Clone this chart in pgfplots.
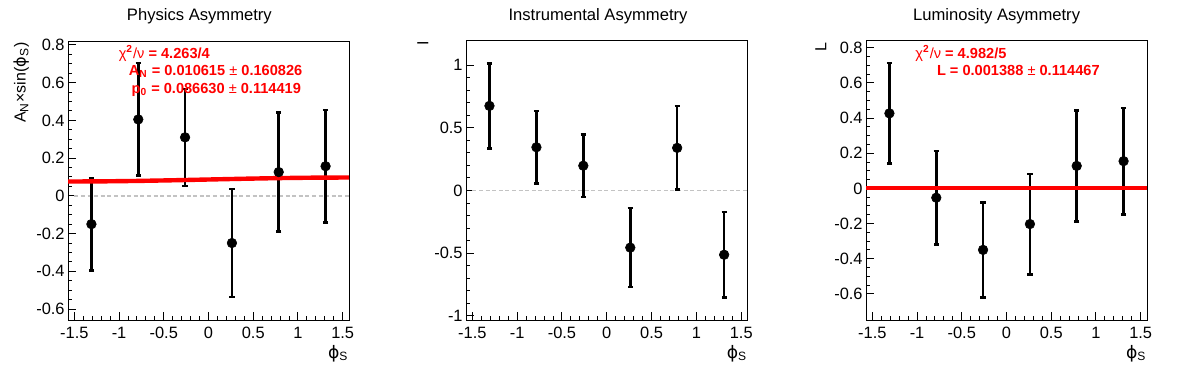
\documentclass[border=0pt]{standalone}
\usepackage{fontspec}
\setmainfont{Liberation Sans}
\newfontfamily\dejavu{DejaVu Sans}
\newcommand{\phis}{{\dejavu ϕ}}
\usepackage{pgfplots}
\pgfplotsset{compat=1.18}
\definecolor{rootred}{RGB}{255,0,0}
\definecolor{dashgray}{RGB}{195,195,195}

\pgfplotstableread{
x y e
-1.309 -0.150 0.245
-0.785 0.405 0.298
-0.262 0.310 0.257
0.262 -0.250 0.286
0.785 0.126 0.315
1.309 0.157 0.299
}\physdata
\pgfplotstableread{
x y e
-1.309 0.675 0.339
-0.785 0.345 0.290
-0.262 0.198 0.249
0.262 -0.455 0.315
0.785 0.340 0.333
1.309 -0.512 0.340
}\instdata
\pgfplotstableread{
x y e
-1.309 0.427 0.287
-0.785 -0.053 0.266
-0.262 -0.350 0.270
0.262 -0.203 0.286
0.785 0.128 0.315
1.309 0.155 0.302
}\lumidata
\pgfplotstableread{
x y
-1.5708 0.0760
-1.2 0.0767
-0.8 0.0790
-0.4 0.0825
0 0.0866
0.4 0.0907
0.8 0.0942
1.2 0.0965
1.5708 0.0972
}\physfit

\pgfplotsset{
  rootaxis/.style={
    scale only axis,
    anchor=south west,
    xmin=-1.5708, xmax=1.5708,
    axis line style={line width=0.5pt, black},
    tick align=inside,
    xtick pos=left, ytick pos=left,
    major tick length=4.2pt, minor tick length=2.1pt,
    every tick/.style={black, line width=0.5pt},
    xtick={-1.5,-1,-0.5,0,0.5,1,1.5},
    xticklabels={-1.5,-1,-0.5,0,0.5,1,1.5},
    minor x tick num=4,
    tick label style={font=\fontsize{8.2}{9}\selectfont},
    xticklabel style={inner sep=0pt, anchor=north, yshift=-3.3pt},
    yticklabel style={inner sep=0pt, anchor=east, xshift=-1.5pt},
    clip=true,
  },
  datapts/.style={only marks, mark=*, mark size=2.4pt, black,
    mark options={fill=black, draw=black, line width=0.3pt},
    error bars/.cd, y dir=both, y explicit,
    error bar style={line width=1.3pt, black},
    error mark options={rotate=90, mark size=1.3pt, line width=1.3pt, black}},
  zeroline/.style={dashgray, dash pattern=on 2pt off 1.3pt, line width=0.9pt},
}

\begin{document}
\begin{tikzpicture}
\useasboundingbox (0,0) rectangle (598pt,186pt);

% ---------- Panel 1 ----------
\begin{axis}[rootaxis, at={(34pt,26pt)}, width=140.5pt, height=139.2pt,
  ymin=-0.658, ymax=0.8175,
  ytick={-0.6,-0.4,-0.2,0,0.2,0.4,0.6,0.8},
  yticklabels={-0.6,-0.4,-0.2,0,0.2,0.4,0.6,0.8},
  minor y tick num=3]
\addplot[zeroline] coordinates {(-1.5,0) (1.5708,0)};
\addplot[datapts] table[x=x, y=y, y error=e] {\physdata};
\addplot[rootred, line width=2.2pt] table[x=x, y=y] {\physfit};
\end{axis}

% ---------- Panel 2 ----------
\begin{axis}[rootaxis, at={(233pt,26pt)}, width=140.8pt, height=139.6pt,
  ymin=-1.032, ymax=1.1936,
  ytick={-1,-0.5,0,0.5,1},
  yticklabels={-1,-0.5,0,0.5,1},
  minor y tick num=4]
\addplot[zeroline] coordinates {(-1.5,0) (1.5708,0)};
\addplot[datapts] table[x=x, y=y, y error=e] {\instdata};
\end{axis}

% ---------- Panel 3 ----------
\begin{axis}[rootaxis, at={(433pt,26pt)}, width=140.5pt, height=139.6pt,
  ymin=-0.749, ymax=0.84,
  ytick={-0.6,-0.4,-0.2,0,0.2,0.4,0.6,0.8},
  yticklabels={-0.6,-0.4,-0.2,0,0.2,0.4,0.6,0.8},
  minor y tick num=3]
\addplot[zeroline] coordinates {(-1.5,0) (1.5708,0)};
\addplot[datapts] table[x=x, y=y, y error=e] {\lumidata};
\addplot[rootred, line width=2.2pt] coordinates {(-1.5708,0.001388) (1.5708,0.001388)};
\end{axis}

% ---------- Titles ----------
\begin{scope}[every node/.style={font=\fontsize{8.3}{10}\selectfont, inner sep=0pt, anchor=base}]
\node at (99.7pt,175.6pt) {Physics Asymmetry};
\node at (299pt,175.6pt) {Instrumental Asymmetry};
\node at (498.3pt,175.6pt) {Luminosity Asymmetry};
\end{scope}

% ---------- Axis labels ----------
\begin{scope}[every node/.style={font=\fontsize{8}{9}\selectfont, inner sep=0pt}]
\node[rotate=90, anchor=north east] at (6.5pt,165pt) {A\textsubscript{N}×sin(\phis\textsubscript{S})};
\node[rotate=90, anchor=north east] at (208.5pt,165.5pt) {I};
\node[rotate=90, anchor=north east] at (407.5pt,165pt) {L};
\end{scope}
\begin{scope}[every node/.style={font=\fontsize{8.6}{10}\selectfont, inner sep=0pt, anchor=north east}]
\node at (174.4pt,13.6pt) {\phis\textsubscript{S}};
\node at (373.8pt,13.6pt) {\phis\textsubscript{S}};
\node at (573.4pt,13.6pt) {\phis\textsubscript{S}};
\end{scope}

% ---------- Fit results ----------
\begin{scope}[every node/.style={font=\fontsize{7.3}{9}\selectfont\bfseries, text=rootred, inner sep=0pt, anchor=base west}]
\node at (59.2pt,156.8pt) {{\mdseries χ}\textsuperscript{2}{\mdseries /ν} = 4.263/4};
\node at (64.2pt,148.2pt) {A\textsubscript{N} = 0.010615 {\mdseries ±} 0.160826};
\node at (65.6pt,139.3pt) {p\textsubscript{0} = 0.086630 {\mdseries ±} 0.114419};
\node at (457.5pt,156.8pt) {{\mdseries χ}\textsuperscript{2}{\mdseries /ν} = 4.982/5};
\node at (468.3pt,148.5pt) {L = 0.001388 {\mdseries ±} 0.114467};
\end{scope}
\end{tikzpicture}
\end{document}
